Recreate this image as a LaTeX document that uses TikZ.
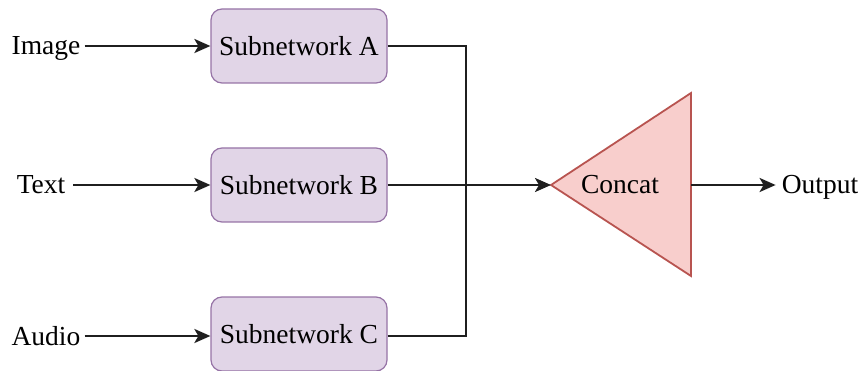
\documentclass[tikz,border=0pt]{standalone}
\usepackage{fontspec}
\setmainfont{Liberation Serif}
\usetikzlibrary{arrows.meta}
\definecolor{subfill}{HTML}{E1D5E7}
\definecolor{subdraw}{HTML}{9673A6}
\definecolor{catfill}{HTML}{F8CECC}
\definecolor{catdraw}{HTML}{B85450}
\begin{document}
\begin{tikzpicture}[x=1pt,y=-1pt,
  every node/.style={font=\fontsize{27.5}{32}\selectfont},
  subnet/.style={draw=subdraw, fill=subfill, line width=1.2pt, rounded corners=11pt,
    minimum width=176pt, minimum height=74pt, inner sep=0pt},
  label/.style={inner sep=0pt, anchor=base},
  wire/.style={line width=2.6pt, draw=black!88},
  arr/.style={wire, -{Stealth[length=16pt,width=14pt,inset=4pt]}}
  ]
  \useasboundingbox (0,0) rectangle (861,371);

  % input labels
  \node[label] (img) at (46,55) {Image};
  \node[label] (txt) at (41,194) {Text};
  \node[label] (aud) at (46,345) {Audio};

  % subnetworks
  \node[subnet] (sa) at (299,46) {Subnetwork A};
  \node[subnet] (sb) at (299,185) {Subnetwork B};
  \node[subnet] (sc) at (299,334) {Subnetwork C};

  % concatenation block
  \coordinate (tip) at (551,185);
  \coordinate (ctop) at (691,93);
  \coordinate (cbot) at (691,276);
  \filldraw[fill=catfill, draw=catdraw, line width=1.8pt, line join=miter]
    (tip) -- (ctop) -- (cbot) -- cycle;
  \node[label] (cat) at (620,194) {Concat};
  \coordinate (cout) at (691,185);

  \node[label] (out) at (820,194) {Output};

  % inputs into subnetworks
  \coordinate (ya) at (0,46);
  \coordinate (yb) at (0,185);
  \coordinate (yc) at (0,336);
  \draw[arr] ([xshift=4pt]img.east |- ya) -- (sa.west);
  \draw[arr] ([xshift=8pt]txt.east |- yb) -- (sb.west);
  \draw[arr] ([xshift=4pt]aud.east |- yc) -- (sc.west |- yc);

  % merge into concat
  \coordinate (jn) at (466,185);
  \draw[wire] (sa.east) -| (jn);
  \draw[wire] (sc.east |- yc) -| (jn);
  \draw[arr] (sb.east) -- (tip);
  \draw[arr] (cout) -- ([xshift=-6pt]out.west |- cout);
\end{tikzpicture}
\end{document}
